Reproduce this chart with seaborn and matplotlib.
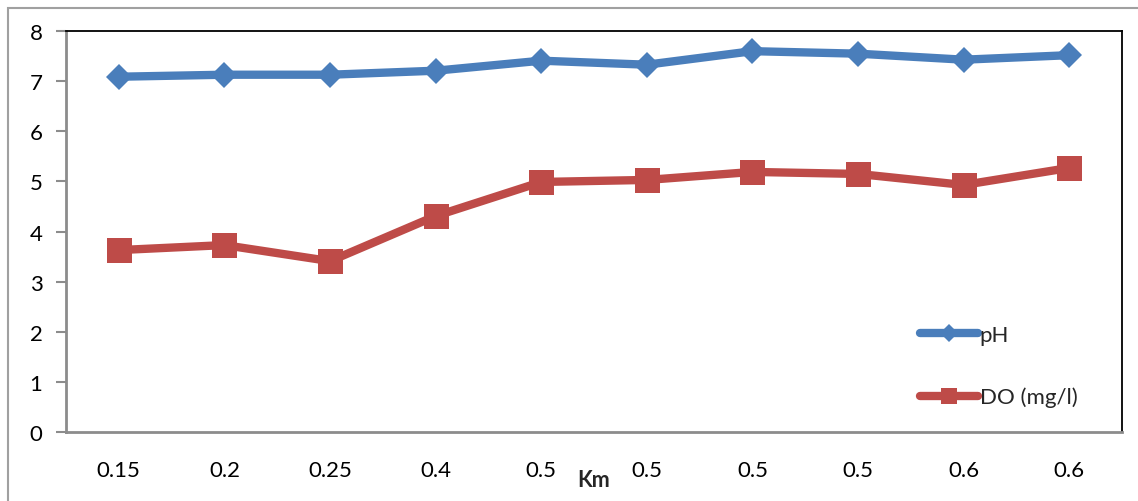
import matplotlib
matplotlib.use("Agg")
import matplotlib.pyplot as plt
import seaborn as sns
import pandas as pd
from matplotlib.patches import Rectangle

# Distance labels along the stream (km) and the measured parameters
km_labels = ["0.15", "0.2", "0.25", "0.4", "0.5", "0.5", "0.5", "0.5", "0.6", "0.6"]
ph_values = [7.09, 7.13, 7.13, 7.21, 7.41, 7.33, 7.60, 7.55, 7.43, 7.52]
do_values = [3.63, 3.73, 3.41, 4.31, 4.99, 5.03, 5.19, 5.15, 4.93, 5.27]

sns.set_theme(style="white")
plt.rcParams["font.family"] = ["Lato", "DejaVu Sans"]

df = pd.DataFrame({
    "pos": list(range(len(km_labels))),
    "pH": ph_values,
    "DO (mg/l)": do_values,
})

fig = plt.figure(figsize=(11.38, 5.02), dpi=100)
ax = fig.add_axes([0.058, 0.1375, 0.928, 0.7985])

sns.lineplot(data=df, x="pos", y="pH", ax=ax, color="#4A7EBB", lw=6,
             marker="D", markersize=13, markeredgewidth=0, label="pH")
sns.lineplot(data=df, x="pos", y="DO (mg/l)", ax=ax, color="#BE4B48", lw=6,
             marker="s", markersize=18, markeredgewidth=0, label="DO (mg/l)")

ax.set_xlim(-0.5, len(km_labels) - 0.5)
ax.set_ylim(0, 8)
ax.set_yticks(range(0, 9))
ax.set_xticks(range(len(km_labels)))
ax.set_xticklabels(km_labels)
ax.set_ylabel("")
ax.set_xlabel("Km", fontsize=15.5, fontweight="bold", labelpad=-8)

ax.tick_params(axis="y", which="major", left=True, length=7, width=1.5,
               color="#8c8c8c", labelsize=16, pad=10, direction="out")
ax.tick_params(axis="x", which="major", bottom=False, labelsize=16, pad=14)
for lab in ax.get_xticklabels() + ax.get_yticklabels():
    lab.set_color("black")

for side in ("left", "bottom"):
    ax.spines[side].set_color("#8c8c8c")
    ax.spines[side].set_linewidth(2)
for side in ("top", "right"):
    ax.spines[side].set_color("black")
    ax.spines[side].set_linewidth(1.3)
ax.grid(False)

leg = ax.legend(loc="upper left", bbox_to_anchor=(0.8, 0.29), frameon=False,
                fontsize=16, handlelength=2.6, handletextpad=0.1,
                labelspacing=1.9, borderaxespad=0)
for h, ms in zip(leg.legend_handles, (9, 12)):
    h.set_linewidth(6)
    h.set_markersize(ms)

# Outer chart frame
fig.patches.append(Rectangle((0.007, -0.05), 1.1, 1.033,
                             transform=fig.transFigure, fill=False,
                             edgecolor="#a0a0a0", linewidth=1.5, zorder=0))

fig.savefig("out.png", dpi=100)
